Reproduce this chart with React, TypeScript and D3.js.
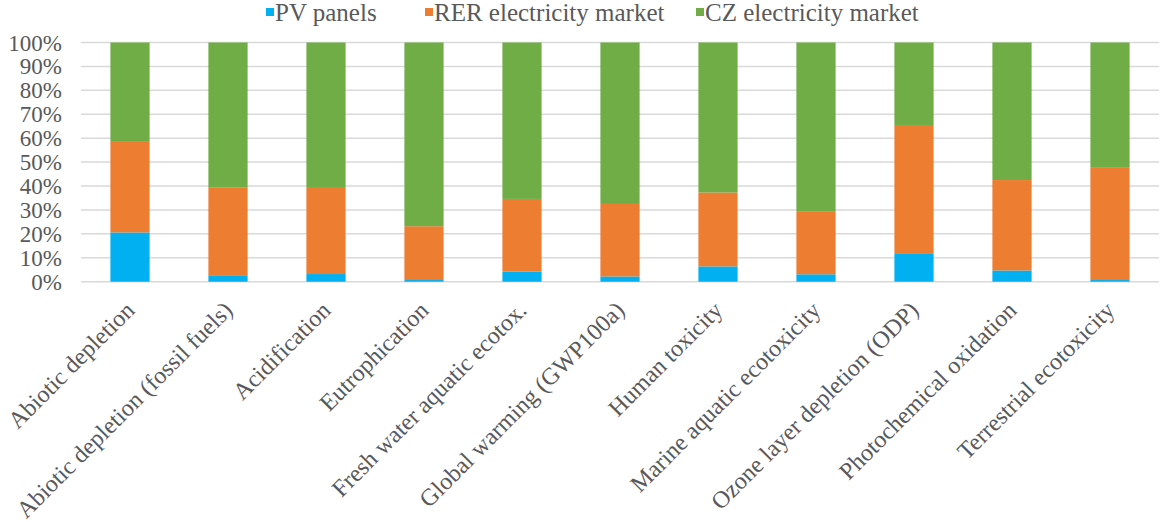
import React from "react";
import * as d3 from "d3";

const categories = [
  "Abiotic depletion",
  "Abiotic depletion (fossil fuels)",
  "Acidification",
  "Eutrophication",
  "Fresh water aquatic ecotox.",
  "Global warming (GWP100a)",
  "Human toxicity",
  "Marine aquatic ecotoxicity",
  "Ozone layer depletion (ODP)",
  "Photochemical oxidation",
  "Terrestrial ecotoxicity",
];

const seriesNames = ["PV panels", "RER electricity market", "CZ electricity market"];
const seriesColors = ["#00B0F0", "#ED7D31", "#70AD47"];

// Share of each impact category (%)
const pvPanels = [20.6, 2.7, 3.2, 0.7, 4.2, 2.2, 6.4, 3.1, 11.6, 4.7, 0.7];
const rerMarket = [38.2, 36.8, 36.0, 22.5, 30.4, 30.3, 30.9, 26.4, 53.9, 37.8, 47.2];
const czMarket = [41.2, 60.5, 60.8, 76.8, 65.4, 67.5, 62.7, 70.5, 34.5, 57.5, 52.1];

const yTicks = [0, 0.1, 0.2, 0.3, 0.4, 0.5, 0.6, 0.7, 0.8, 0.9, 1];

const W = 1160;
const H = 522;
const M = { left: 81, right: 1159, top: 42.5, bottom: 281.7 };
const FONT = "Liberation Serif, Times New Roman, serif";
const TEXT = "#595959";
const textStyle = { fontFamily: FONT, fontSize: 24, fill: TEXT } as const;
const tickStyle = { fontFamily: FONT, fontSize: 23, fill: TEXT } as const;
const legendStyle = { fontFamily: FONT, fontSize: 25, fill: TEXT } as const;

export default function App() {
  const rows = categories.map((c, i) => {
    const total = pvPanels[i] + rerMarket[i] + czMarket[i];
    return {
      cat: c,
      s0: pvPanels[i] / total,
      s1: rerMarket[i] / total,
      s2: czMarket[i] / total,
    };
  });
  const stacked = d3.stack<any>().keys(["s0", "s1", "s2"])(rows);

  const x = d3
    .scaleBand<string>()
    .domain(categories)
    .range([M.left, M.right])
    .paddingInner(0.6)
    .paddingOuter(0.3);
  const y = d3.scaleLinear().domain([0, 1]).range([M.bottom, M.top]);
  const fmt = d3.format(".0%");

  const legendTextX = [275, 434, 705];

  return (
    <svg
      width={W}
      height={H}
      style={{ position: "absolute", left: 0, top: 0, background: "#fff" }}
    >
      {/* gridlines */}
      {yTicks.map((t) => (
        <line
          key={t}
          x1={M.left}
          x2={M.right}
          y1={y(t)}
          y2={y(t)}
          stroke="#D9D9D9"
          strokeWidth={1.5}
        />
      ))}
      {/* y tick labels */}
      {yTicks.map((t) => (
        <text key={"l" + t} x={62} y={y(t)} dy="0.35em" textAnchor="end" style={tickStyle}>
          {fmt(t)}
        </text>
      ))}
      {/* stacked bars */}
      {stacked.map((layer, si) => (
        <g key={si} fill={seriesColors[si]}>
          {layer.map((d, i) => (
            <rect
              key={i}
              x={x(categories[i])}
              width={x.bandwidth()}
              y={y(d[1])}
              height={y(d[0]) - y(d[1])}
            />
          ))}
        </g>
      ))}
      {/* category labels */}
      {categories.map((c) => {
        const cx = (x(c) as number) + x.bandwidth() / 2 + 6;
        const cy = M.bottom + 30;
        return (
          <text
            key={c}
            transform={`translate(${cx},${cy}) rotate(-45)`}
            textAnchor="end"
            style={textStyle}
          >
            {c}
          </text>
        );
      })}
      {/* legend */}
      {seriesNames.map((n, i) => (
        <g key={n}>
          <rect x={legendTextX[i] - 9} y={8} width={8} height={8} fill={seriesColors[i]} />
          <text x={legendTextX[i]} y={21} style={legendStyle}>
            {n}
          </text>
        </g>
      ))}
    </svg>
  );
}
